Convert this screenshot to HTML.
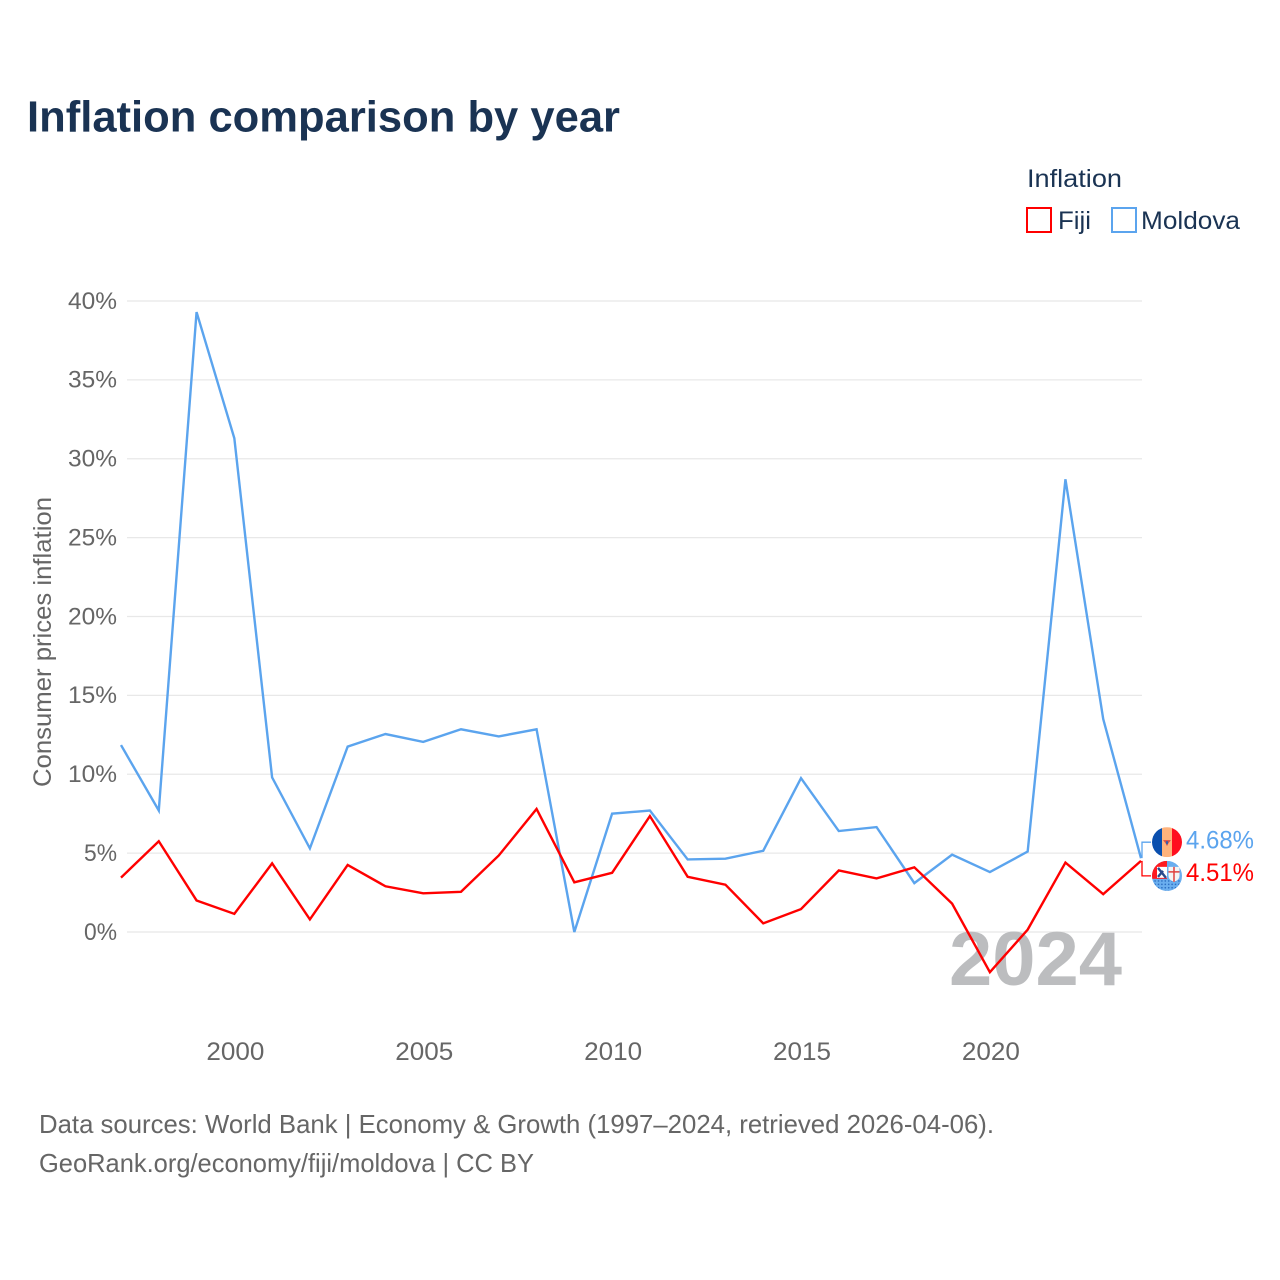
<!DOCTYPE html>
<html lang="en">
<head>
<meta charset="utf-8">
<title>Inflation comparison by year</title>
<style>
html,body{margin:0;padding:0;background:#fff;width:1280px;height:1280px;overflow:hidden}
svg{display:block;font-family:"Liberation Sans",sans-serif}
</style>
</head>
<body>
<svg id="chart" xmlns="http://www.w3.org/2000/svg" width="1280" height="1280" viewBox="0 0 1280 1280">
  <defs>
    <clipPath id="clip-md"><circle cx="0" cy="0" r="15"/></clipPath>
    <clipPath id="clip-fj"><circle cx="0" cy="0" r="15"/></clipPath>
    <pattern id="dots" width="3.4" height="3.4" patternUnits="userSpaceOnUse"><rect width="3.4" height="3.4" fill="#6aaeef"/><circle cx="1.7" cy="1.7" r="0.8" fill="#2a6cc0"/></pattern>
  </defs>
  <rect width="1280" height="1280" fill="#fff"/>
  <text x="27" y="131.5" font-size="44" font-weight="700" fill="#1a3353" textLength="593" lengthAdjust="spacingAndGlyphs">Inflation comparison by year</text>

  <text x="1027" y="187" font-size="25" fill="#1a3353" textLength="95" lengthAdjust="spacingAndGlyphs">Inflation</text>
  <rect x="1027" y="208" width="24" height="24" fill="#fff" stroke="#ff0000" stroke-width="2"/>
  <text x="1058" y="229" font-size="25" fill="#1a3353" textLength="33" lengthAdjust="spacingAndGlyphs">Fiji</text>
  <rect x="1112" y="208" width="24" height="24" fill="#fff" stroke="#5ba4ee" stroke-width="2"/>
  <text x="1141" y="229" font-size="25" fill="#1a3353" textLength="99" lengthAdjust="spacingAndGlyphs">Moldova</text>

  <g id="grid"></g>
  <g id="yticks"></g>
  <g id="xticks"></g>
  <text transform="translate(51,787) rotate(-90)" font-size="25" fill="#666" textLength="290" lengthAdjust="spacingAndGlyphs">Consumer prices inflation</text>

  <text x="949" y="985" font-size="76" font-weight="700" fill="#bcbdbf" textLength="173" lengthAdjust="spacingAndGlyphs">2024</text>

  <g id="series"></g>
  <g id="ends"></g>

  <text x="39" y="1133" font-size="26" fill="#666" textLength="955" lengthAdjust="spacingAndGlyphs">Data sources: World Bank | Economy &amp; Growth (1997–2024, retrieved 2026-04-06).</text>
  <text x="39" y="1172" font-size="26" fill="#666" textLength="495" lengthAdjust="spacingAndGlyphs">GeoRank.org/economy/fiji/moldova | CC BY</text>
</svg>
<script>
const years = [1997,1998,1999,2000,2001,2002,2003,2004,2005,2006,2007,2008,2009,2010,2011,2012,2013,2014,2015,2016,2017,2018,2019,2020,2021,2022,2023,2024];
const moldovaValues = [11.85,7.7,39.3,31.3,9.8,5.3,11.75,12.55,12.05,12.85,12.4,12.85,0,7.5,7.7,4.6,4.65,5.15,9.75,6.4,6.65,3.1,4.9,3.8,5.1,28.7,13.5,4.68];
const fijiValues = [3.45,5.75,2.0,1.15,4.35,0.8,4.25,2.9,2.45,2.55,4.85,7.8,3.15,3.75,7.35,3.5,3.0,0.55,1.45,3.9,3.4,4.1,1.8,-2.55,0.15,4.4,2.4,4.51];
const yTickValues = [0,5,10,15,20,25,30,35,40];
const xTickValues = [2000,2005,2010,2015,2020];

const NS = 'http://www.w3.org/2000/svg';
function xScale(v){ return 121 + (v - 1997) * (1141 - 121) / 27; }
function yScale(v){ return 932 - v * (932 - 301) / 40; }
function make(tag, attrs, parent, text){
  const el = document.createElementNS(NS, tag);
  for (const k in attrs) el.setAttribute(k, attrs[k]);
  if (text !== undefined) el.textContent = text;
  parent.appendChild(el);
  return el;
}

const grid = document.getElementById('grid');
const yticks = document.getElementById('yticks');
yTickValues.forEach(function(v){
  const line = make('line', {x1:127, x2:1142, y1:yScale(v), y2:yScale(v), stroke:'#e8e8e8', 'stroke-width':1.3}, grid);
  
  
  const label = v + '%';
  const w = label.length === 3 ? 49 : 33;
  const t = make('text', {x:117 - w, y:yScale(v) + 7.8, 'font-size':24, fill:'#666', textLength:w, lengthAdjust:'spacingAndGlyphs'}, yticks, label);
  
  
});

const xticks = document.getElementById('xticks');
xTickValues.forEach(function(v){
  const t = make('text', {x:xScale(v) - 28, y:1060, 'font-size':25, fill:'#666', textLength:58, lengthAdjust:'spacingAndGlyphs'}, xticks, String(v));
  
  
});

function pathFor(values){
  return values.map(function(v, i){ return (i ? 'L' : 'M') + xScale(years[i]).toFixed(2) + ' ' + yScale(v).toFixed(2); }).join(' ');
}
const series = document.getElementById('series');
const moldovaLine = make('path', {d:pathFor(moldovaValues), fill:'none', stroke:'#5ba4ee', 'stroke-width':2.4, 'stroke-linejoin':'miter'}, series);


const fijiLine = make('path', {d:pathFor(fijiValues), fill:'none', stroke:'#ff0000', 'stroke-width':2.4, 'stroke-linejoin':'miter'}, series);



const ends = document.getElementById('ends');
const xEnd = xScale(years[years.length - 1]);
const yMd = yScale(moldovaValues[moldovaValues.length - 1]);
const yFj = yScale(fijiValues[fijiValues.length - 1]);
const mdLabelY = yMd - 16;
const fjLabelY = yFj + 15;

const mdConn = make('path', {d:'M' + (xEnd + 1) + ' ' + yMd + ' V' + mdLabelY + ' H' + (xEnd + 10), fill:'none', stroke:'#5ba4ee', 'stroke-width':1.3}, ends);


const fjConn = make('path', {d:'M' + (xEnd + 1) + ' ' + yFj + ' V' + fjLabelY + ' H' + (xEnd + 10), fill:'none', stroke:'#ff0000', 'stroke-width':1.3}, ends);



// Moldova flag
const md = make('g', {transform:'translate(1167,' + mdLabelY + ')', 'clip-path':'url(#clip-md)'}, ends);


make('rect', {x:-15, y:-15, width:10, height:30, fill:'#0a4fae'}, md);
make('rect', {x:-5, y:-15, width:10, height:30, fill:'#ffb37c'}, md);
make('rect', {x:5, y:-15, width:10, height:30, fill:'#ff0e1e'}, md);
make('path', {d:'M-4 -2 H4 L1.5 1 L0 4 L-1.5 1 Z', fill:'#d8504a'}, md);
make('rect', {x:-1, y:-1, width:2, height:3, fill:'#3b5fa8'}, md);

// Fiji flag
const fj = make('g', {transform:'translate(1167,' + fjLabelY + ')', 'clip-path':'url(#clip-fj)'}, ends);


make('rect', {x:-15, y:-15, width:30, height:30, fill:'#6aaeef'}, fj);
make('rect', {x:-15, y:3, width:30, height:12, fill:'url(#dots)'}, fj);
make('rect', {x:-15, y:-15, width:15, height:18, fill:'#ff1a20'}, fj);
make('rect', {x:-10, y:-9, width:10, height:11, fill:'#ffffff'}, fj);
make('path', {d:'M-9 -8 L-1 2 M-9 1 L-4 -5', stroke:'#2a4a8c', 'stroke-width':2.4, fill:'none'}, fj);
make('path', {d:'M1.5 -9 H12.5 V0 Q12.5 4 7 6 Q1.5 4 1.5 0 Z', fill:'#f4f4f4'}, fj);
make('path', {d:'M7 -9 V6 M1.5 -4 H12.5', stroke:'#e0413f', 'stroke-width':1.5, fill:'none'}, fj);

const mdText = make('text', {x:1186, y:mdLabelY + 6.5, 'font-size':25, fill:'#5ba4ee', textLength:68, lengthAdjust:'spacingAndGlyphs'}, ends, moldovaValues[moldovaValues.length - 1].toFixed(2) + '%');


const fjText = make('text', {x:1186, y:fjLabelY + 5, 'font-size':25, fill:'#ff0000', textLength:68, lengthAdjust:'spacingAndGlyphs'}, ends, fijiValues[fijiValues.length - 1].toFixed(2) + '%');


</script>
</body>
</html>
